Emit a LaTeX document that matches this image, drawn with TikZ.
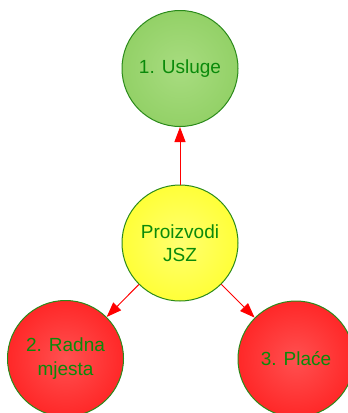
\documentclass[tikz,border=0pt]{standalone}
\usepackage{fontspec}
\setmainfont{Liberation Sans}
\usetikzlibrary{arrows.meta}
\definecolor{txtgreen}{HTML}{0A8A0A}
\definecolor{bordergreen}{HTML}{2A8A1A}
\definecolor{greenin}{HTML}{A8DC80}
\definecolor{greenout}{HTML}{7EC64E}
\definecolor{yellowin}{HTML}{FFFF70}
\definecolor{yellowout}{HTML}{FFFF00}
\definecolor{redin}{HTML}{FF5050}
\definecolor{redout}{HTML}{FF0000}
\pgfdeclareradialshading{greenshade}{\pgfpoint{0bp}{0bp}}{color(0bp)=(greenin); color(50bp)=(greenout); color(100bp)=(greenout)}
\pgfdeclareradialshading{yellowshade}{\pgfpoint{0bp}{0bp}}{color(0bp)=(yellowin); color(50bp)=(yellowout); color(100bp)=(yellowout)}
\pgfdeclareradialshading{redshade}{\pgfpoint{0bp}{0bp}}{color(0bp)=(redin); color(50bp)=(redout); color(100bp)=(redout)}
\tikzset{
  bubble/.style={circle, minimum size=116pt, inner sep=0pt, draw=bordergreen, line width=1pt,
    text=txtgreen, align=center, font=\fontsize{19}{23.5}\selectfont},
  greenb/.style={bubble, shading=greenshade},
  yellowb/.style={bubble, shading=yellowshade},
  redb/.style={bubble, shading=redshade},
  conn/.style={draw=red, line width=1pt, -{Triangle[length=15pt, width=11pt]}}
}
\begin{document}
\begin{tikzpicture}[x=1pt, y=-1pt]
\useasboundingbox (0,0) rectangle (348,413);
\clip (0,0) rectangle (348,413);
\node[greenb] (u) at (180,68.5) {1. Usluge};
\node[yellowb] (c) at (180,243) {Proizvodi\\JSZ};
\node[redb] (r) at (65.5,358.5) {2. Radna\\mjesta};
\node[redb] (p) at (296,359) {3. Plaće};
\draw[conn] (c) -- (u);
\draw[conn] (c) -- (r);
\draw[conn] (c) -- (p);
\end{tikzpicture}
\end{document}
